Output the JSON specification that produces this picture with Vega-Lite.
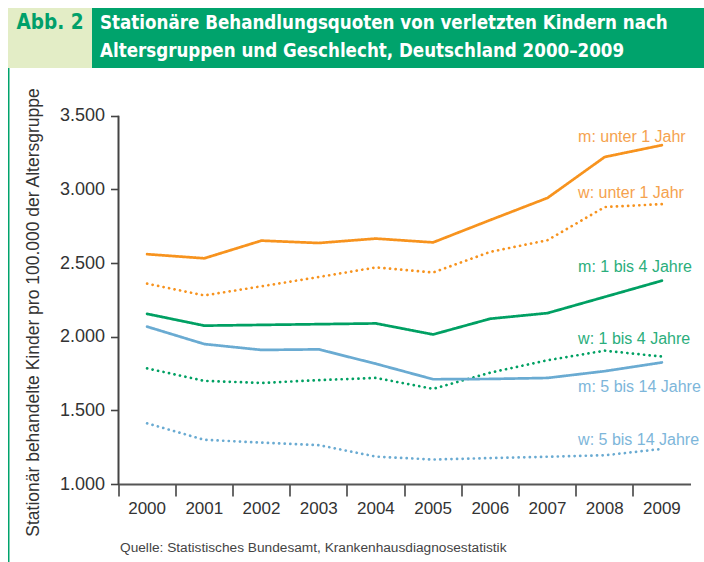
{
  "$schema": "https://vega.github.io/schema/vega-lite/v6.json",
  "padding": {"left": 8, "top": 8, "right": 0, "bottom": 0},
  "background": "white",
  "config": {"view": {"stroke": null}, "font": "Liberation Sans", "axis": {"grid": false}},
  "spacing": 0,
  "vconcat": [
    {
      "bounds": "flush",
      "spacing": 0,
      "hconcat": [
        {
          "width": 84,
          "height": 60,
          "view": {"fill": "#E3EDC6", "stroke": null},
          "data": {"values": [{"t": "Abb. 2"}]},
          "mark": {"type": "text", "font": "DejaVu Sans Condensed", "fontWeight": "bold", "fontSize": 20.5, "color": "#00A06A", "align": "center", "baseline": "middle", "dy": -15},
          "encoding": {"text": {"field": "t"}}
        },
        {
          "width": 612,
          "height": 60,
          "view": {"fill": "#00A36C", "stroke": null},
          "data": {"values": [{"t": "Stationäre Behandlungsquoten von verletzten Kindern nach\nAltersgruppen und Geschlecht, Deutschland 2000–2009"}]},
          "mark": {"type": "text", "lineBreak": "\n", "font": "DejaVu Sans Condensed", "fontWeight": "bold", "fontSize": 18.6, "lineHeight": 28, "color": "white", "align": "left", "baseline": "middle", "dx": 8, "dy": -15},
          "encoding": {
            "text": {"field": "t"},
            "x": {"datum": 0, "type": "quantitative", "scale": {"domain": [0, 1]}, "axis": null}
          }
        }
      ]
    },
    {
      "bounds": "flush",
      "spacing": 108.5,
      "hconcat": [
        {
          "width": 1.5,
          "height": 494,
          "view": {"fill": "#00A36C", "stroke": null},
          "data": {"values": [{"t": ""}]},
          "mark": {"type": "text"},
          "encoding": {"text": {"field": "t"}}
        },
        {
          "width": 572,
          "height": 416,
          "resolve": {"scale": {"color": "independent"}},
          "layer": [
            {
              "data": {"values": [
                {"year": "2000", "alter": "u1", "geschlecht": "m", "value": 2560},
                {"year": "2001", "alter": "u1", "geschlecht": "m", "value": 2532},
                {"year": "2002", "alter": "u1", "geschlecht": "m", "value": 2652},
                {"year": "2003", "alter": "u1", "geschlecht": "m", "value": 2636},
                {"year": "2004", "alter": "u1", "geschlecht": "m", "value": 2666},
                {"year": "2005", "alter": "u1", "geschlecht": "m", "value": 2640},
                {"year": "2006", "alter": "u1", "geschlecht": "m", "value": 2792},
                {"year": "2007", "alter": "u1", "geschlecht": "m", "value": 2942},
                {"year": "2008", "alter": "u1", "geschlecht": "m", "value": 3220},
                {"year": "2009", "alter": "u1", "geschlecht": "m", "value": 3300},
                {"year": "2000", "alter": "u1", "geschlecht": "w", "value": 2360},
                {"year": "2001", "alter": "u1", "geschlecht": "w", "value": 2280},
                {"year": "2002", "alter": "u1", "geschlecht": "w", "value": 2342},
                {"year": "2003", "alter": "u1", "geschlecht": "w", "value": 2405},
                {"year": "2004", "alter": "u1", "geschlecht": "w", "value": 2470},
                {"year": "2005", "alter": "u1", "geschlecht": "w", "value": 2436},
                {"year": "2006", "alter": "u1", "geschlecht": "w", "value": 2576},
                {"year": "2007", "alter": "u1", "geschlecht": "w", "value": 2655},
                {"year": "2008", "alter": "u1", "geschlecht": "w", "value": 2880},
                {"year": "2009", "alter": "u1", "geschlecht": "w", "value": 2900},
                {"year": "2000", "alter": "1-4", "geschlecht": "m", "value": 2155},
                {"year": "2001", "alter": "1-4", "geschlecht": "m", "value": 2075},
                {"year": "2002", "alter": "1-4", "geschlecht": "m", "value": 2080},
                {"year": "2003", "alter": "1-4", "geschlecht": "m", "value": 2085},
                {"year": "2004", "alter": "1-4", "geschlecht": "m", "value": 2090},
                {"year": "2005", "alter": "1-4", "geschlecht": "m", "value": 2015},
                {"year": "2006", "alter": "1-4", "geschlecht": "m", "value": 2122},
                {"year": "2007", "alter": "1-4", "geschlecht": "m", "value": 2160},
                {"year": "2008", "alter": "1-4", "geschlecht": "m", "value": 2270},
                {"year": "2009", "alter": "1-4", "geschlecht": "m", "value": 2380},
                {"year": "2000", "alter": "1-4", "geschlecht": "w", "value": 1785},
                {"year": "2001", "alter": "1-4", "geschlecht": "w", "value": 1700},
                {"year": "2002", "alter": "1-4", "geschlecht": "w", "value": 1686},
                {"year": "2003", "alter": "1-4", "geschlecht": "w", "value": 1705},
                {"year": "2004", "alter": "1-4", "geschlecht": "w", "value": 1720},
                {"year": "2005", "alter": "1-4", "geschlecht": "w", "value": 1646},
                {"year": "2006", "alter": "1-4", "geschlecht": "w", "value": 1756},
                {"year": "2007", "alter": "1-4", "geschlecht": "w", "value": 1840},
                {"year": "2008", "alter": "1-4", "geschlecht": "w", "value": 1905},
                {"year": "2009", "alter": "1-4", "geschlecht": "w", "value": 1865},
                {"year": "2000", "alter": "5-14", "geschlecht": "m", "value": 2068},
                {"year": "2001", "alter": "5-14", "geschlecht": "m", "value": 1950},
                {"year": "2002", "alter": "5-14", "geschlecht": "m", "value": 1910},
                {"year": "2003", "alter": "5-14", "geschlecht": "m", "value": 1914},
                {"year": "2004", "alter": "5-14", "geschlecht": "m", "value": 1816},
                {"year": "2005", "alter": "5-14", "geschlecht": "m", "value": 1711},
                {"year": "2006", "alter": "5-14", "geschlecht": "m", "value": 1713},
                {"year": "2007", "alter": "5-14", "geschlecht": "m", "value": 1720},
                {"year": "2008", "alter": "5-14", "geschlecht": "m", "value": 1766},
                {"year": "2009", "alter": "5-14", "geschlecht": "m", "value": 1825},
                {"year": "2000", "alter": "5-14", "geschlecht": "w", "value": 1412},
                {"year": "2001", "alter": "5-14", "geschlecht": "w", "value": 1300},
                {"year": "2002", "alter": "5-14", "geschlecht": "w", "value": 1281},
                {"year": "2003", "alter": "5-14", "geschlecht": "w", "value": 1264},
                {"year": "2004", "alter": "5-14", "geschlecht": "w", "value": 1186},
                {"year": "2005", "alter": "5-14", "geschlecht": "w", "value": 1166},
                {"year": "2006", "alter": "5-14", "geschlecht": "w", "value": 1176},
                {"year": "2007", "alter": "5-14", "geschlecht": "w", "value": 1185},
                {"year": "2008", "alter": "5-14", "geschlecht": "w", "value": 1195},
                {"year": "2009", "alter": "5-14", "geschlecht": "w", "value": 1238}
              ]},
              "mark": {"type": "line", "strokeWidth": 2.7, "strokeCap": "round", "strokeJoin": "round"},
              "encoding": {
                "x": {
                  "field": "year", "type": "ordinal",
                  "scale": {"type": "band", "paddingInner": 0, "paddingOuter": 0},
                  "axis": {
                    "bandPosition": 0, "labelAngle": 0,
                    "domainColor": "#555555", "domainWidth": 2,
                    "tickColor": "#444444", "tickWidth": 1.6, "tickSize": 12,
                    "labelFontSize": 17, "labelColor": "#333333", "labelPadding": 4,
                    "title": "Quelle: Statistisches Bundesamt, Krankenhausdiagnosestatistik",
                    "titleFontSize": 13.7, "titleFontWeight": "normal", "titleColor": "#444444",
                    "titleAlign": "left", "titleAnchor": "start", "titleX": 1, "titleY": 67, "titleBaseline": "alphabetic"
                  }
                },
                "y": {
                  "field": "value", "type": "quantitative",
                  "scale": {"domain": [1000, 3824], "nice": false, "zero": false},
                  "axis": {
                    "values": [1000, 1500, 2000, 2500, 3000, 3500],
                    "labelExpr": "replace(format(datum.value, ','), ',', '.')",
                    "domain": false,
                    "tickColor": "#444444", "tickWidth": 1.6, "tickSize": 8,
                    "labelFontSize": 18, "labelColor": "#333333", "labelPadding": 6,
                    "title": "Stationär behandelte Kinder pro 100.000 der Altersgruppe",
                    "titleFontSize": 17.5, "titleFontWeight": "normal", "titleColor": "#333333",
                    "titleX": -76, "titleY": 244, "titleAngle": -90, "titleAlign": "center", "titleBaseline": "bottom"
                  }
                },
                "color": {
                  "field": "alter", "type": "nominal",
                  "scale": {"domain": ["u1", "1-4", "5-14"], "range": ["#F7931E", "#00A063", "#6AABD2"]},
                  "legend": null
                },
                "strokeDash": {
                  "field": "geschlecht", "type": "nominal",
                  "scale": {"domain": ["m", "w"], "range": [[1, 0], [0.1, 5.5]]},
                  "legend": null
                }
              }
            },
            {
              "data": {"values": [{"year": "2000", "von": 1000, "bis": 3500}]},
              "mark": {"type": "rule", "color": "#444444", "strokeWidth": 2},
              "encoding": {
                "x": {"field": "year", "type": "ordinal", "bandPosition": 0},
                "y": {"field": "von", "type": "quantitative"},
                "y2": {"field": "bis"}
              }
            },
            {
              "data": {"values": [
                {"year": "2008", "alter": "u1", "label": "m: unter 1 Jahr", "value": 3322},
                {"year": "2008", "alter": "u1", "label": "w: unter 1 Jahr", "value": 2940},
                {"year": "2008", "alter": "1-4", "label": "m: 1 bis 4 Jahre", "value": 2441},
                {"year": "2008", "alter": "1-4", "label": "w: 1 bis 4 Jahre", "value": 1948},
                {"year": "2008", "alter": "5-14", "label": "m: 5 bis 14 Jahre", "value": 1627},
                {"year": "2008", "alter": "5-14", "label": "w: 5 bis 14 Jahre", "value": 1263}
              ]},
              "mark": {"type": "text", "align": "left", "baseline": "alphabetic", "fontSize": 16, "dx": 2},
              "encoding": {
                "x": {"field": "year", "type": "ordinal", "bandPosition": 0},
                "y": {"field": "value", "type": "quantitative"},
                "text": {"field": "label"},
                "color": {
                  "field": "alter", "type": "nominal",
                  "scale": {"domain": ["u1", "1-4", "5-14"], "range": ["#F5A24E", "#2BAE7C", "#7DB6DA"]},
                  "legend": null
                }
              }
            }
          ]
        }
      ]
    }
  ]
}
